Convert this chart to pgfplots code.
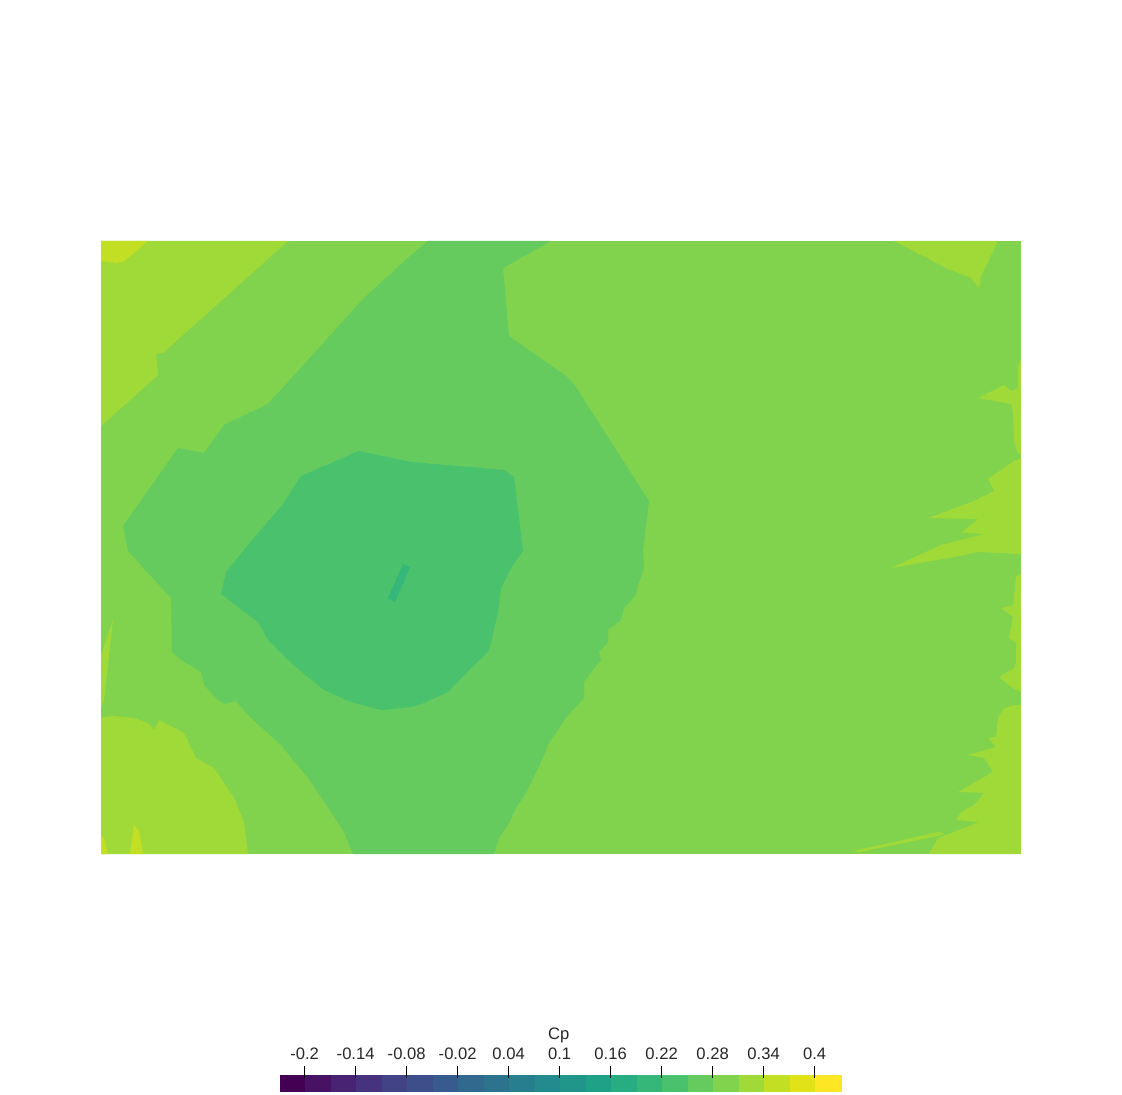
\documentclass[border=0pt]{standalone}
\usepackage{fontspec}
\setmainfont{Liberation Sans}
\usepackage{pgfplots}
\pgfplotsset{compat=1.18}
\usetikzlibrary{calc}

% viridis, 22 discrete levels (Cp from -0.229 to 0.431, step 0.03)
\definecolor{c0}{HTML}{440154}
\definecolor{c1}{HTML}{471164}
\definecolor{c2}{HTML}{482374}
\definecolor{c3}{HTML}{46327F}
\definecolor{c4}{HTML}{424286}
\definecolor{c5}{HTML}{3D4F8A}
\definecolor{c6}{HTML}{375B8D}
\definecolor{c7}{HTML}{31688E}
\definecolor{c8}{HTML}{2C738E}
\definecolor{c9}{HTML}{277F8E}
\definecolor{c10}{HTML}{238A8D}
\definecolor{c11}{HTML}{20968B}
\definecolor{c12}{HTML}{1FA188}
\definecolor{c13}{HTML}{27AD81}
\definecolor{c14}{HTML}{35B779}
\definecolor{c15}{HTML}{4AC16D}
\definecolor{c16}{HTML}{65CB5E}
\definecolor{c17}{HTML}{81D34D}
\definecolor{c18}{HTML}{A0DA39}
\definecolor{c19}{HTML}{C2DF23}
\definecolor{c20}{HTML}{E1E318}
\definecolor{c21}{HTML}{FDE725}

\newcommand\band[3]{\addplot[fill=#1,draw=#1,line width=0.2pt] coordinates {(#2,0)(#3,0)(#3,1)(#2,1)} -- cycle;}

\begin{document}
\begin{tikzpicture}
% contour map, drawn in screen pixels (y down)
\begin{axis}[name=map, hide axis, scale only axis, clip=false,
  width=561pt, height=547.5pt,
  xmin=0, xmax=1122, ymin=0, ymax=1095, y dir=reverse]
% base level 0.281..0.311
\addplot[fill=c17, draw=none] coordinates {(101,241)(1021,241)(1021,854)(101,854)} -- cycle;
% level 0.311..0.341
\addplot[fill=c18, draw=none] coordinates {(101,241)(288,241)(163,353)(156,354)(158,375)(101,426)} -- cycle;
\addplot[fill=c18, draw=none] coordinates {(101,717)(114,716)(134,718)(148,723)(154,730)(159,720)(184,733)(196,758)(214,768)(234,798)(244,822)(248,854)(101,854)} -- cycle;
\addplot[fill=c18, draw=none] coordinates {(101,655)(113,620)(104,700)(101,710)} -- cycle;
\addplot[fill=c18, draw=none] coordinates {(894,241)(948,269)(971,278)(979,288)(981,276)(998,241)} -- cycle;
\addplot[fill=c18, draw=none] coordinates {(978,398)(1004,385)(1011,391)(1018,388)(1018,366)(1021,360)(1021,455)(1017,452)(1014,441)(1013,414)(1011,404)} -- cycle;
\addplot[fill=c18, draw=none] coordinates {(1021,458)(1014,461)(988,479)(994,491)(974,501)(928,518)(978,519)(961,533)(984,534)(941,545)(891,568)(954,557)(978,552)(1019,554)(1021,555)} -- cycle;
\addplot[fill=c18, draw=none] coordinates {(1021,573)(1016,577)(1013,605)(1001,608)(1013,617)(1009,638)(1016,643)(1016,662)(1014,668)(999,677)(1011,687)(1021,692)} -- cycle;
\addplot[fill=c18, draw=none] coordinates {(1021,705)(1014,705)(1004,708)(998,718)(996,737)(988,738)(996,747)(968,755)(984,758)(993,772)(958,792)(984,793)(974,805)(961,812)(956,820)(979,822)(954,832)(938,838)(929,854)(1021,854)} -- cycle;
\addplot[fill=c18, draw=none] coordinates {(853,851)(938,832)(944,833)(938,836)(860,852)} -- cycle;
% level 0.341..0.371
\addplot[fill=c19, draw=none] coordinates {(101,241)(148,241)(128,258)(124,261)(116,263)(101,261)} -- cycle;
\addplot[fill=c19, draw=none] coordinates {(130,854)(134,825)(139,831)(143,854)} -- cycle;
\addplot[fill=c19, draw=none] coordinates {(101,835)(104,838)(108,854)(101,854)} -- cycle;
% level 0.251..0.281
\addplot[fill=c16, draw=none] coordinates {(428,241)(551,241)(503,268)(509,336)(566,376)(574,384)(638,484)(649,501)(643,551)(644,568)(638,585)(636,595)(624,608)(621,620)(608,630)(608,642)(599,652)(601,660)(593,670)(584,682)(584,698)(568,715)(549,743)(541,762)(526,793)(516,808)(508,825)(499,838)(494,854)(353,854)(344,832)(331,812)(308,778)(281,745)(261,727)(248,715)(236,701)(224,704)(216,698)(204,685)(201,672)(181,660)(172,652)(171,598)(128,551)(123,526)(178,448)(204,453)(224,425)(268,404)(364,298)(411,255)} -- cycle;
% level 0.221..0.251
\addplot[fill=c15, draw=none] coordinates {(301,476)(359,451)(411,462)(504,470)(514,477)(523,551)(511,568)(501,588)(498,612)(491,642)(488,652)(471,668)(448,692)(424,703)(411,707)(381,710)(351,702)(324,690)(291,663)(268,640)(259,623)(221,594)(226,572)(248,545)(283,504)} -- cycle;
% level 0.191..0.221
\addplot[fill=c14, draw=none] coordinates {(403,564)(410,567)(395,602)(388,598)} -- cycle;
\end{axis}
\path (map.south west) rectangle (map.north east);

% colour bar
\begin{axis}[at={($(map.south west)+(140pt,2pt)$)}, anchor=south west,
  scale only axis, width=280.5pt, height=8pt, clip=false,
  xmin=-0.229, xmax=0.431, ymin=0, ymax=1,
  axis line style={draw=none}, ytick=\empty,
  xtick={-0.2,-0.14,-0.08,-0.02,0.04,0.1,0.16,0.22,0.28,0.34,0.4},
  xticklabels={{-0.2},{-0.14},{-0.08},{-0.02},{0.04},{0.1},{0.16},{0.22},{0.28},{0.34},{0.4}},
  xtick pos=right, xticklabel pos=right,
  tick align=outside, major tick length=6pt,
  xtick style={black, line width=0.5pt, yshift=-1.5pt},
  xticklabel style={font=\fontsize{8.3}{10}\selectfont, text=black!85, yshift=-2pt},
  axis on top]
\band{c0}{-0.229}{-0.199}
\band{c1}{-0.199}{-0.169}
\band{c2}{-0.169}{-0.139}
\band{c3}{-0.139}{-0.109}
\band{c4}{-0.109}{-0.079}
\band{c5}{-0.079}{-0.049}
\band{c6}{-0.049}{-0.019}
\band{c7}{-0.019}{0.011}
\band{c8}{0.011}{0.041}
\band{c9}{0.041}{0.071}
\band{c10}{0.071}{0.101}
\band{c11}{0.101}{0.131}
\band{c12}{0.131}{0.161}
\band{c13}{0.161}{0.191}
\band{c14}{0.191}{0.221}
\band{c15}{0.221}{0.251}
\band{c16}{0.251}{0.281}
\band{c17}{0.281}{0.311}
\band{c18}{0.311}{0.341}
\band{c19}{0.341}{0.371}
\band{c20}{0.371}{0.401}
\band{c21}{0.401}{0.431}
\node[anchor=base, font=\fontsize{8.3}{10}\selectfont, text=black!85, yshift=17.5pt] at (rel axis cs:0.497,1) {Cp};
\end{axis}
\end{tikzpicture}
\end{document}
